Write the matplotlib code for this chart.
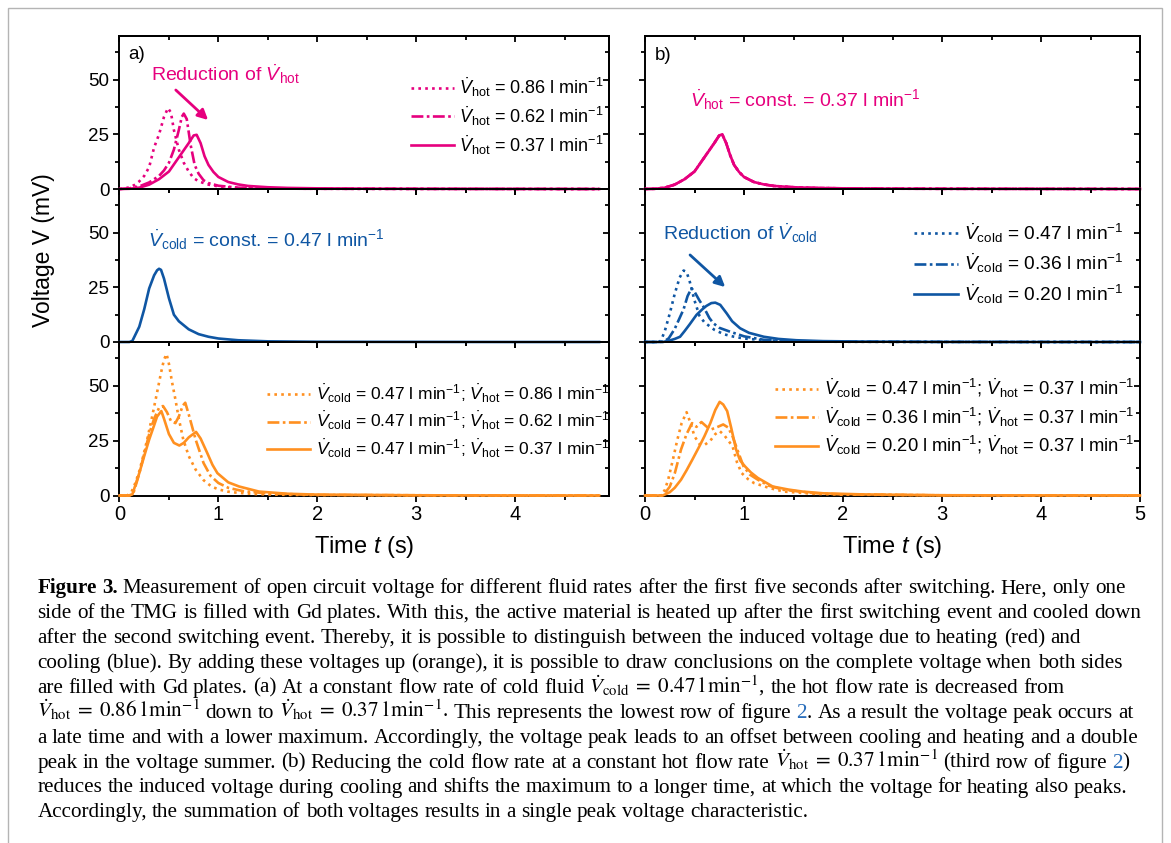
import matplotlib
matplotlib.use('Agg')
import matplotlib.pyplot as plt
from matplotlib.ticker import MultipleLocator
from matplotlib.patches import Rectangle

plt.rcParams['font.family'] = ['Liberation Sans', 'DejaVu Sans']
plt.rcParams['mathtext.fontset'] = 'custom'
plt.rcParams['mathtext.rm'] = 'Liberation Sans'
plt.rcParams['mathtext.it'] = 'Liberation Sans:italic'
plt.rcParams['mathtext.bf'] = 'Liberation Sans:bold'
plt.rcParams['axes.linewidth'] = 1.4

# ---------------- data (time in s, voltage in mV) ----------------
# (a) heating, cold flow constant, hot flow varied
t_hot_086 = [0, 0.05, 0.1, 0.15, 0.2, 0.25, 0.3, 0.35, 0.4, 0.45, 0.49, 0.52, 0.55, 0.6, 0.65, 0.7, 0.75, 0.8, 0.9, 1.0, 1.2, 1.5, 2.0, 3.0, 4.0, 4.85]
v_hot_086 = [0, 0.2, 0.8, 1.8, 3.5, 6, 10, 19, 25, 33, 37, 35, 27, 18, 12, 8, 5, 3.5, 2, 1.2, 0.5, 0.2, 0.1, 0.05, 0, 0]
t_hot_062 = [0, 0.1, 0.2, 0.3, 0.4, 0.45, 0.5, 0.55, 0.6, 0.63, 0.65, 0.68, 0.72, 0.76, 0.8, 0.85, 0.9, 1.0, 1.2, 1.5, 2.0, 3.0, 4.0, 4.85]
v_hot_062 = [0, 0.3, 1.2, 3, 6, 8.5, 12, 18, 27, 33, 34.5, 32, 20, 11, 7, 4, 2.7, 1.5, 0.6, 0.2, 0.1, 0.05, 0, 0]
t_hot_037 = [0, 0.1, 0.2, 0.3, 0.4, 0.5, 0.6, 0.7, 0.75, 0.78, 0.82, 0.86, 0.9, 0.95, 1.0, 1.1, 1.2, 1.3, 1.5, 1.7, 2.0, 2.5, 3.0, 4.0, 4.85]
v_hot_037 = [0, 0.1, 0.6, 2, 4.5, 8, 14.5, 21, 24.5, 24.8, 21, 15, 11, 7.8, 5.5, 3.2, 2.1, 1.4, 0.8, 0.5, 0.3, 0.15, 0.1, 0.05, 0]
t_cold_047 = [0, 0.1, 0.13, 0.2, 0.25, 0.3, 0.35, 0.38, 0.4, 0.42, 0.45, 0.5, 0.55, 0.6, 0.7, 0.8, 0.9, 1.0, 1.2, 1.5, 2.0, 3.0, 4.0, 4.85]
v_cold_047 = [0, 0, 0.5, 7, 15, 24.5, 30.5, 32.8, 33.5, 33, 29, 20, 12.5, 9.5, 5.8, 3.6, 2.4, 1.6, 0.8, 0.3, 0.1, 0.05, 0, 0]
t_sum_a_086 = [0, 0.08, 0.12, 0.16, 0.2, 0.24, 0.28, 0.33, 0.38, 0.42, 0.45, 0.476, 0.5, 0.53, 0.565, 0.6, 0.645, 0.7, 0.77, 0.85, 0.93, 1.0, 1.09, 1.2, 1.4, 1.7, 2.0, 3.0, 4.0, 4.85]
v_sum_a_086 = [0, 0, 1.5, 5.7, 11, 18, 25.5, 36, 47, 56, 62, 64.5, 60, 52, 43.9, 35, 25.5, 18, 11.8, 7, 4.1, 2.8, 1.8, 1.2, 0.6, 0.3, 0.2, 0.1, 0, 0]
t_sum_a_062 = [0, 0.1, 0.14, 0.2, 0.25, 0.3, 0.35, 0.4, 0.44, 0.48, 0.52, 0.565, 0.6, 0.64, 0.665, 0.7, 0.77, 0.85, 0.92, 1.0, 1.1, 1.25, 1.5, 2.0, 3.0, 4.0, 4.85]
v_sum_a_062 = [0, 0, 1, 10, 19, 28, 35, 40, 40.8, 38, 34, 33, 36, 41, 42.3, 37, 25.5, 14.8, 9, 5.7, 3.5, 2, 0.9, 0.3, 0.1, 0, 0]
t_sum_a_037 = [0, 0.1, 0.13, 0.2, 0.25, 0.3, 0.35, 0.38, 0.423, 0.45, 0.5, 0.55, 0.605, 0.65, 0.7, 0.774, 0.82, 0.887, 0.94, 0.99, 1.1, 1.21, 1.41, 1.7, 2.0, 3.0, 4.0, 4.85]
v_sum_a_037 = [0, 0, 0.5, 10.2, 18, 25.5, 32, 36, 38.5, 35, 28, 24, 22.8, 24, 26.5, 29, 26, 19.4, 14, 10.2, 6, 4.1, 1.8, 0.8, 0.4, 0.1, 0, 0]

# (b) hot flow constant, cold flow varied
t_b_hot = [0, 0.1, 0.2, 0.3, 0.4, 0.5, 0.6, 0.7, 0.75, 0.78, 0.82, 0.86, 0.9, 0.95, 1.0, 1.1, 1.2, 1.3, 1.5, 1.7, 2.0, 2.5, 3.0, 4.0, 5.0]
v_b_hot = [0, 0.1, 0.6, 2, 4.5, 8, 14.5, 21, 24.5, 25, 21, 15.5, 11, 7.8, 5.5, 3.2, 2.1, 1.4, 0.8, 0.5, 0.3, 0.15, 0.1, 0.05, 0]
t_b_cold_047 = [0, 0.13, 0.16, 0.2, 0.25, 0.3, 0.35, 0.39, 0.42, 0.45, 0.5, 0.55, 0.6, 0.7, 0.8, 0.9, 1.0, 1.2, 1.5, 2.0, 3.0, 4.0, 5.0]
v_b_cold_047 = [0, 0, 0.5, 5, 13, 22, 29.5, 32.7, 32, 28, 19, 12, 9, 5.6, 3.5, 2.4, 1.6, 0.8, 0.3, 0.1, 0.05, 0, 0]
t_b_cold_036 = [0, 0.15, 0.2, 0.24, 0.3, 0.35, 0.39, 0.43, 0.47, 0.5, 0.55, 0.59, 0.65, 0.69, 0.75, 0.86, 1.0, 1.2, 1.5, 2.0, 3.0, 5.0]
v_b_cold_036 = [0, 0, 0.5, 1.7, 6, 11, 15, 21, 24.6, 23, 19, 16.2, 11, 8.6, 6.5, 4.7, 2.6, 1.0, 0.4, 0.15, 0.05, 0]
t_b_cold_020 = [0, 0.18, 0.25, 0.3, 0.354, 0.4, 0.45, 0.52, 0.58, 0.62, 0.67, 0.71, 0.76, 0.825, 0.88, 0.96, 1.05, 1.2, 1.35, 1.53, 1.8, 2.2, 3.0, 4.0, 5.0]
v_b_cold_020 = [0, 0, 0.7, 1.4, 2.4, 5, 8, 12.4, 15, 16.5, 17.8, 18, 17, 13.1, 9.5, 6.3, 4.2, 2.4, 1.4, 0.8, 0.4, 0.2, 0.05, 0, 0]
t_sum_b_047 = [0, 0.16, 0.2, 0.234, 0.28, 0.327, 0.37, 0.42, 0.46, 0.5, 0.55, 0.6, 0.66, 0.71, 0.754, 0.8, 0.884, 0.93, 0.977, 1.04, 1.1, 1.25, 1.4, 1.7, 2.0, 3.0, 5.0]
v_sum_b_047 = [0, 0, 2.5, 7.2, 16, 25.5, 33, 38, 33, 27, 23.5, 23, 25, 28, 29.4, 27.5, 22.5, 15, 10.2, 7.5, 5.7, 3.5, 1.8, 0.8, 0.4, 0.1, 0]
t_sum_b_036 = [0, 0.17, 0.2, 0.25, 0.3, 0.364, 0.42, 0.475, 0.52, 0.57, 0.62, 0.66, 0.72, 0.79, 0.84, 0.884, 0.94, 0.995, 1.06, 1.14, 1.25, 1.4, 1.7, 2.0, 3.0, 5.0]
v_sum_b_036 = [0, 0, 1, 4, 10, 21, 28, 33, 31.3, 33.5, 31.5, 30, 31, 32.4, 31, 27, 20, 13.3, 9.5, 7.2, 4.5, 2.6, 1.1, 0.5, 0.1, 0]
t_sum_b_020 = [0, 0.18, 0.25, 0.3, 0.364, 0.42, 0.48, 0.55, 0.6, 0.66, 0.71, 0.754, 0.79, 0.83, 0.87, 0.92, 0.96, 1.01, 1.07, 1.14, 1.29, 1.45, 1.59, 1.8, 2.2, 3.0, 5.0]
v_sum_b_020 = [0, 0, 1.5, 3.5, 7.2, 11.5, 16.5, 22.5, 27, 33, 39, 42.7, 41.5, 38.5, 31, 21, 16, 13.3, 10.5, 8, 4.1, 2.7, 1.8, 1.0, 0.5, 0.1, 0]

x_ticks_a = [0, 1, 2, 3, 4]
x_ticks_b = [0, 1, 2, 3, 4, 5]
y_ticks = [0, 25, 50]

lab_hot_a = [r'$\dot{V}_\mathrm{hot}$ = 0.86 l min$^{-1}$',
             r'$\dot{V}_\mathrm{hot}$ = 0.62 l min$^{-1}$',
             r'$\dot{V}_\mathrm{hot}$ = 0.37 l min$^{-1}$']
lab_sum_a = [r'$\dot{V}_\mathrm{cold}$ = 0.47 l min$^{-1}$; $\dot{V}_\mathrm{hot}$ = 0.86 l min$^{-1}$',
             r'$\dot{V}_\mathrm{cold}$ = 0.47 l min$^{-1}$; $\dot{V}_\mathrm{hot}$ = 0.62 l min$^{-1}$',
             r'$\dot{V}_\mathrm{cold}$ = 0.47 l min$^{-1}$; $\dot{V}_\mathrm{hot}$ = 0.37 l min$^{-1}$']
lab_cold_b = [r'$\dot{V}_\mathrm{cold}$ = 0.47 l min$^{-1}$',
              r'$\dot{V}_\mathrm{cold}$ = 0.36 l min$^{-1}$',
              r'$\dot{V}_\mathrm{cold}$ = 0.20 l min$^{-1}$']
lab_sum_b = [r'$\dot{V}_\mathrm{cold}$ = 0.47 l min$^{-1}$; $\dot{V}_\mathrm{hot}$ = 0.37 l min$^{-1}$',
             r'$\dot{V}_\mathrm{cold}$ = 0.36 l min$^{-1}$; $\dot{V}_\mathrm{hot}$ = 0.37 l min$^{-1}$',
             r'$\dot{V}_\mathrm{cold}$ = 0.20 l min$^{-1}$; $\dot{V}_\mathrm{hot}$ = 0.37 l min$^{-1}$']

PINK = '#E6007E'
BLUE = '#0F56A3'
ORANGE = '#FF9020'
LW = 1.9
STYLES = [(0, (1.0, 1.6)), (0, (4.5, 1.3, 1.0, 1.3)), '-']

# ---------------- figure layout ----------------
W, H = 1171, 843
fig = plt.figure(figsize=(W / 100, H / 100), dpi=100)


def px_rect(x0, x1, ytop, ybot):
    return [x0 / W, 1 - ybot / H, (x1 - x0) / W, (ybot - ytop) / H]


col_x = [(119.5, 609.0), (645.0, 1140.0)]
row_y = [(36.0, 189.0), (189.0, 342.0), (342.0, 495.5)]
xmax = [4.95, 5.0]

axes = []
for c in range(2):
    col = []
    for r in range(3):
        ax = fig.add_axes(px_rect(*col_x[c], *row_y[r]))
        ax.patch.set_visible(False)
        ax.set_xlim(0, xmax[c])
        ax.set_ylim(0, 70)
        ax.set_xticks(x_ticks_a if c == 0 else x_ticks_b)
        ax.xaxis.set_minor_locator(MultipleLocator(0.5))
        ax.set_yticks(y_ticks)
        ax.yaxis.set_minor_locator(MultipleLocator(12.5))
        ax.tick_params(axis='x', which='both', direction='out', top=False, labelsize=14.5, pad=3)
        ax.tick_params(axis='y', which='both', direction='out', right=False, labelsize=13.5, pad=3)
        ax.tick_params(which='major', length=4.2, width=1.3)
        ax.tick_params(which='minor', length=3.0, width=1.3)
        if r < 2:
            ax.tick_params(axis='x', labelbottom=False)
        if c == 1:
            ax.tick_params(axis='y', labelleft=False)
        top = ax.secondary_xaxis('top')
        top.set_xticks(x_ticks_a if c == 0 else x_ticks_b)
        top.xaxis.set_minor_locator(MultipleLocator(0.5))
        top.tick_params(which='both', direction='in', labeltop=False, width=1.3)
        top.tick_params(which='major', length=4.2)
        top.tick_params(which='minor', length=3.0)
        right = ax.secondary_yaxis('right')
        right.set_yticks(y_ticks)
        right.yaxis.set_minor_locator(MultipleLocator(12.5))
        right.tick_params(which='both', direction='in', labelright=False, width=1.3)
        right.tick_params(which='major', length=4.2)
        right.tick_params(which='minor', length=3.0)
        col.append(ax)
    axes.append(col)


def draw(ax, series, color):
    handles = []
    for (t, v), ls in zip(series, STYLES):
        h, = ax.plot(t, v, color=color, lw=LW, linestyle=ls, zorder=3, clip_on=False)
        handles.append(h)
    return handles


def add_legend(ax, handles, labels, anchor, size, spacing=0.35):
    ax.legend(handles, labels, loc='upper right', bbox_to_anchor=anchor, frameon=False,
              fontsize=size, handlelength=2.5 * 12.5 / size, handletextpad=0.3, labelspacing=spacing,
              borderpad=0, borderaxespad=0)


# (a)
h = draw(axes[0][0], [(t_hot_086, v_hot_086), (t_hot_062, v_hot_062), (t_hot_037, v_hot_037)], PINK)
add_legend(axes[0][0], h, lab_hot_a, (0.99, 0.742), 13, 0.3)
axes[0][1].plot(t_cold_047, v_cold_047, color=BLUE, lw=LW, zorder=3, clip_on=False)
h = draw(axes[0][2], [(t_sum_a_086, v_sum_a_086), (t_sum_a_062, v_sum_a_062), (t_sum_a_037, v_sum_a_037)], ORANGE)
add_legend(axes[0][2], h, lab_sum_a, (1.0, 0.732), 12.5, 0.3)

# (b)
draw(axes[1][0], [(t_b_hot, v_b_hot), (t_b_hot, v_b_hot), (t_b_hot, v_b_hot)], PINK)
h = draw(axes[1][1], [(t_b_cold_047, v_b_cold_047), (t_b_cold_036, v_b_cold_036), (t_b_cold_020, v_b_cold_020)], BLUE)
add_legend(axes[1][1], h, lab_cold_b, (0.966, 0.787), 13.8)
h = draw(axes[1][2], [(t_sum_b_047, v_sum_b_047), (t_sum_b_036, v_sum_b_036), (t_sum_b_020, v_sum_b_020)], ORANGE)
add_legend(axes[1][2], h, lab_sum_b, (0.988, 0.772), 13.2, 0.26)

# panel letters & annotations
ANN = 14
axes[0][0].text(0.017, 0.876, 'a)', transform=axes[0][0].transAxes, fontsize=13.5, va='center')
axes[1][0].text(0.02, 0.87, 'b)', transform=axes[1][0].transAxes, fontsize=13.5, va='center')
axes[0][0].text(0.064, 0.706, r'Reduction of $\dot{V}_\mathrm{hot}$', transform=axes[0][0].transAxes,
                fontsize=ANN, color=PINK, va='baseline')
axes[0][0].annotate('', xy=(0.181, 0.451), xytext=(0.115, 0.647), xycoords='axes fraction',
                    arrowprops=dict(arrowstyle='-|>', color=PINK, lw=2, mutation_scale=15, shrinkA=0, shrinkB=0))
axes[0][1].text(0.058, 0.623, r'$\dot{V}_\mathrm{cold}$ = const. = 0.47 l min$^{-1}$', transform=axes[0][1].transAxes,
                fontsize=ANN, color=BLUE, va='baseline')
axes[1][0].text(0.091, 0.538, r'$\dot{V}_\mathrm{hot}$ = const. = 0.37 l min$^{-1}$', transform=axes[1][0].transAxes,
                fontsize=ANN, color=PINK, va='baseline')
axes[1][1].text(0.036, 0.667, r'Reduction of $\dot{V}_\mathrm{cold}$', transform=axes[1][1].transAxes,
                fontsize=ANN, color=BLUE, va='baseline')
axes[1][1].annotate('', xy=(0.162, 0.359), xytext=(0.091, 0.569), xycoords='axes fraction',
                    arrowprops=dict(arrowstyle='-|>', color=BLUE, lw=2, mutation_scale=15, shrinkA=0, shrinkB=0))

# axis labels
fig.text(364 / W, 1 - 553 / H, r'Time $t$ (s)', fontsize=17, ha='center', va='baseline')
fig.text(892.5 / W, 1 - 553 / H, r'Time $t$ (s)', fontsize=17, ha='center', va='baseline')
fig.text(44 / W, 1 - 250 / H, 'Voltage V (mV)', fontsize=16.5, rotation=90, ha='center', va='center')

# outer frame
fig.patches.append(Rectangle((8 / W, -0.05), (1162 - 8) / W, 1.05 - 8 / H, transform=fig.transFigure,
                             fill=False, ec='#b4b4b4', lw=1.0, clip_on=False))

# ---------------- caption ----------------
# '^' marks bold words, text between '§' is a (blue) figure reference
VC = r'$\dot{V}_\mathrm{cold}\;=\;0.47\;\mathrm{l}\,\mathrm{min}^{-1}$'
VH86 = r'$\dot{V}_\mathrm{hot}\;=\;0.86\;\mathrm{l}\,\mathrm{min}^{-1}$'
VH37 = r'$\dot{V}_\mathrm{hot}\;=\;0.37\;\mathrm{l}\,\mathrm{min}^{-1}$'
cap_lines = [
    '^Figure ^3. Measurement of open circuit voltage for different fluid rates after the first five seconds after switching. Here, only one',
    'side of the TMG is filled with Gd plates. With this, the active material is heated up after the first switching event and cooled down',
    'after the second switching event. Thereby, it is possible to distinguish between the induced voltage due to heating (red) and',
    'cooling (blue). By adding these voltages up (orange), it is possible to draw conclusions on the complete voltage when both sides',
    'are filled with Gd plates. (a) At a constant flow rate of cold fluid ' + VC + ', the hot flow rate is decreased from',
    VH86 + ' down to ' + VH37 + '. This represents the lowest row of figure §2§. As a result the voltage peak occurs at',
    'a late time and with a lower maximum. Accordingly, the voltage peak leads to an offset between cooling and heating and a double',
    'peak in the voltage summer. (b) Reducing the cold flow rate at a constant hot flow rate ' + VH37 + ' (third row of figure §2§)',
    'reduces the induced voltage during cooling and shifts the maximum to a longer time, at which the voltage for heating also peaks.',
    'Accordingly, the summation of both voltages results in a single peak voltage characteristic.',
]

renderer = fig.canvas.get_renderer()
base_font = dict(family='Liberation Serif', math_fontfamily='stix')


def width(s, size, weight='normal'):
    t = fig.text(0, 0, s, fontsize=size, fontweight=weight, **base_font)
    w = t.get_window_extent(renderer).width
    t.remove()
    return w


def pieces(word):
    weight = 'normal'
    if word.startswith('^'):
        weight, word = 'bold', word[1:]
    parts = word.split('§')
    return [(p, 'link' if k % 2 else 'text', weight) for k, p in enumerate(parts) if p]


def layout(line, size, y=None):
    x = 37.3
    sp = width('x x', size) - width('xx', size)
    for word in line.split(' '):
        for p, kind, weight in pieces(word):
            if y is not None:
                fig.text(x / W, y, p, fontsize=size, fontweight=weight,
                         color='#2a6ebb' if kind == 'link' else 'black', va='baseline', **base_font)
            x += width(p, size, weight)
        x += sp
    return x - sp


# fit the caption font size to the width of the first line
size0 = 13.0
cap_size = size0 * (1120 - 37.3) / (layout(cap_lines[0], size0) - 37.3)

for i, line in enumerate(cap_lines):
    layout(line, cap_size, 1 - (593.3 + i * 24.9) / H)

fig.savefig('out.png', dpi=100)
